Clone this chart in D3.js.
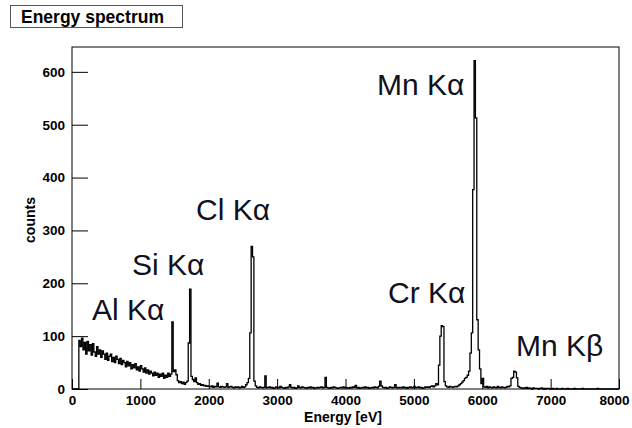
<!DOCTYPE html>
<html>
<head>
<meta charset="utf-8">
<script src="https://cdn.jsdelivr.net/npm/d3@7"></script>
<style>
  body { margin: 0; background: #fff; }
  text { font-family: "Liberation Sans", Arial, sans-serif; }
</style>
</head>
<body>
<div id="chart"></div>
<script>
// histogram: 400 bins of 20 eV from 0 to 8000 eV
const binWidth = 20;
const counts = [
  0,0,0,0,0, 92,80,96,74,88, 66,90,72,84,64, 86,70,62,80,66,
  74,60,72,66,56, 68,54,62,66,52, 60,50,62,56,48, 58,46,54,50,42,
  52,44,50,38,46, 40,48,36,42,34, 44,38,32,40,30, 36,28,34,30,25,
  32,26,30,22,28, 24,30,20,26,22, 30,24,28,127,33, 36,27,16,12,14,
  10,13,9,12,15, 87,189,24,18,14, 21,12,9,10,7, 8,6,7,5,6,
  5,4,6,3,5, 4,11,4,3,5, 4,3,4,10,3, 4,5,3,2,4,
  3,4,2,3,5, 3,4,8,12,20, 106,270,250,15,6, 3,2,4,3,2,
  3,25,2,3,4, 2,3,1,2,4, 3,2,5,3,2, 1,3,2,4,8,
  3,2,3,1,2, 6,3,2,4,3, 2,1,3,2,4, 2,3,1,2,3,
  2,3,4,2,3, 22,3,2,1,3, 2,4,3,2,1, 2,3,2,4,2,
  3,2,1,3,2, 4,3,7,2,3, 1,2,3,2,4, 2,3,1,2,3,
  2,4,3,2,5, 15,6,3,2,3, 1,2,4,3,2, 3,8,2,3,2,
  3,2,4,2,3, 1,3,4,2,3, 5,2,3,4,2, 3,1,2,4,3,
  4,3,5,6,4, 6,10,8,45,100, 120,118,14,6,4, 3,5,4,3,4,
  5,4,6,8,10, 13,16,20,22,26, 34,68,106,377,621, 513,131,74,38,10,
  20,4,3,5,2, 4,3,2,4,3, 2,5,3,2,4, 3,2,3,5,4,
  6,20,22,34,32, 21,5,3,2,1, 2,1,3,1,2, 1,0,2,1,1,
  1,0,1,2,0, 1,0,1,1,0, 0,1,0,0,1, 0,0,0,1,0,
  0,0,1,0,0, 0,0,1,0,0, 0,0,0,1,0, 0,0,0,0,0,
  0,0,0,0,1, 0,0,0,0,0, 0,0,0,0,0, 0,0,0,0,0
];

const xTicks = [0, 1000, 2000, 3000, 4000, 5000, 6000, 7000, 8000];
const yTicks = [0, 100, 200, 300, 400, 500, 600];

// peak annotations, anchored in data space (left edge, baseline)
const peakNames  = ["Al K\u03b1", "Si K\u03b1", "Cl K\u03b1", "Cr K\u03b1", "Mn K\u03b1", "Mn K\u03b2"];
const peakLabelE = [293, 878, 1814, 4622, 4461, 6494];
const peakLabelC = [131, 216, 320, 163, 557, 62];

const W = 632, H = 428;
const svg = d3.select("#chart").append("svg")
  .attr("width", W)
  .attr("height", H);

const x = d3.scaleLinear().domain([0, 8000]).range([72, 619]);
const y = d3.scaleLinear().domain([0, 647]).range([389, 47]);

// title box
svg.append("rect")
  .attr("x", 10.5).attr("y", 5.5)
  .attr("width", 172).attr("height", 22)
  .attr("fill", "#fff")
  .attr("stroke", "#555");
svg.append("text")
  .attr("x", 21).attr("y", 23)
  .attr("font-size", "17.5px")
  .attr("font-weight", "bold")
  .attr("fill", "#000")
  .text("Energy spectrum");

// histogram outline
const pts = counts.map((c, i) => [i * binWidth, c]);
pts.push([counts.length * binWidth, counts[counts.length - 1]]);

svg.append("path")
  .datum(pts)
  .attr("d", d3.line().x(d => x(d[0])).y(d => y(d[1])).curve(d3.curveStepAfter))
  .attr("fill", "none")
  .attr("stroke", "#000")
  .attr("stroke-width", 1.3);

// axes (ticks point inward like ROOT)
const xMinor = d3.range(0, 8001, 250).filter(v => v % 1000 !== 0);
const yMinor = d3.range(0, 641, 20).filter(v => v % 100 !== 0);

const gx = svg.append("g").attr("transform", "translate(0,389)");
gx.call(d3.axisBottom(x).tickValues(xMinor).tickSize(-5).tickFormat(""));
gx.call(d3.axisBottom(x).tickValues(xTicks).tickSize(-10).tickPadding(6).tickFormat(d3.format("d")));

const gy = svg.append("g").attr("transform", "translate(72,0)");
gy.call(d3.axisLeft(y).tickValues(yMinor).tickSize(-8).tickFormat(""));
gy.call(d3.axisLeft(y).tickValues(yTicks).tickSize(-16).tickPadding(7).tickFormat(d3.format("d")));

svg.selectAll(".domain").remove();
svg.selectAll(".tick line").attr("stroke", "#000");
svg.selectAll(".tick text")
  .attr("font-family", "'Liberation Sans', Arial, sans-serif")
  .attr("font-size", "13.5px")
  .attr("font-weight", "bold")
  .attr("fill", "#000");
// keep the last x label inside the picture
gx.selectAll(".tick text").filter(d => d === 8000).attr("dx", "-5");

// frame
svg.append("rect")
  .attr("x", 72).attr("y", 47)
  .attr("width", 619 - 72).attr("height", 389 - 47)
  .attr("fill", "none")
  .attr("stroke", "#000");

// axis titles
svg.append("text")
  .attr("x", 343).attr("y", 422)
  .attr("text-anchor", "middle")
  .attr("font-size", "14px")
  .attr("font-weight", "bold")
  .text("Energy [eV]");

svg.append("text")
  .attr("transform", "translate(35,220) rotate(-90)")
  .attr("text-anchor", "middle")
  .attr("font-size", "14px")
  .attr("font-weight", "bold")
  .text("counts");

// peak labels
svg.selectAll(".peak")
  .data(peakNames)
  .enter()
  .append("text")
    .attr("class", "peak")
    .attr("x", (d, i) => x(peakLabelE[i]))
    .attr("y", (d, i) => y(peakLabelC[i]))
    .attr("font-size", "30px")
    .attr("fill", "#101020")
    .text(d => d);
</script>
</body>
</html>
